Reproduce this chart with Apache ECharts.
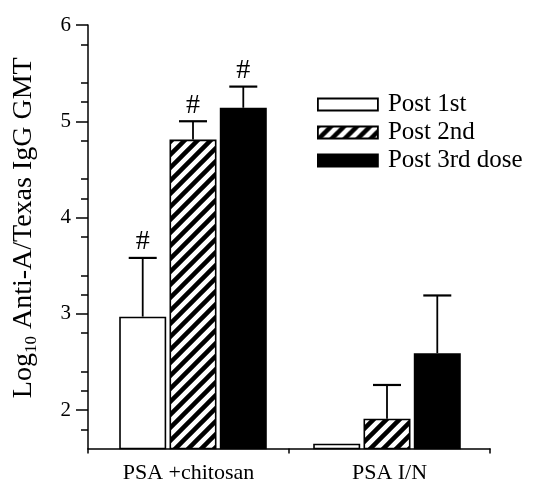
<!DOCTYPE html>
<html><head><meta charset="utf-8">
<script src="https://cdn.jsdelivr.net/npm/echarts@6/dist/echarts.min.js"></script>
<style>html,body{margin:0;padding:0;background:#fff}#c{width:541px;height:485px}</style>
</head><body><div id="c"></div>
<script>
const categories = ['PSA +chitosan', 'PSA I/N'];
const seriesNames = ['Post 1st', 'Post 2nd', 'Post 3rd dose'];
const post1 = [2.97, 1.65];
const post1Err = [0.61, 0];
const post2 = [4.81, 1.91];
const post2Err = [0.19, 0.35];
const post3 = [5.14, 2.59];
const post3Err = [0.22, 0.60];
const sigMarks = ['#', ''];
const yTicks = [2, 3, 4, 5, 6];

const FONT = "'Liberation Serif', 'Times New Roman', serif";
const BAR_W = 47, GAP_PCT = 0.07, GAP = BAR_W * GAP_PCT;
const Y_MIN = 1.6, Y_MAX = 6;

function hatch() {
  const s = 13, c = document.createElement('canvas');
  c.width = s; c.height = s;
  const g = c.getContext('2d');
  g.fillStyle = '#fff'; g.fillRect(0, 0, s, s);
  g.strokeStyle = '#000'; g.lineWidth = 4.5;
  g.beginPath();
  g.moveTo(-3, s + 3); g.lineTo(s + 3, -3);
  g.moveTo(-3, 3); g.lineTo(3, -3);
  g.moveTo(s - 3, s + 3); g.lineTo(s + 3, s - 3);
  g.stroke();
  return { image: c, repeat: 'repeat' };
}

const fills = ['#ffffff', hatch(), '#000000'];
const vals = [post1, post2, post3];
const errs = [post1Err, post2Err, post3Err];

const series = [];
vals.forEach((v, k) => {
  series.push({
    name: seriesNames[k], type: 'bar', data: v, barWidth: BAR_W, barGap: (GAP_PCT * 100) + '%',
    xAxisIndex: 1, yAxisIndex: 1,
    itemStyle: { color: fills[k], borderColor: '#000', borderWidth: 1.6 }
  });
});
vals.forEach((v, k) => {
  series.push({
    type: 'custom', z: 5, silent: true, xAxisIndex: 1, yAxisIndex: 1,
    data: v.map((x, i) => [i, x, x + errs[k][i], errs[k][i]]),
    encode: { x: 0, y: [1, 2] },
    renderItem: function (params, api) {
      const i = api.value(0), e = api.value(3);
      if (!(e > 0)) return null;
      const b = api.coord([i, api.value(1)]);
      const t = api.coord([i, api.value(2)]);
      const x = b[0] + (k - 1) * (BAR_W + GAP);
      const cw = 14;
      const ch = [
        { type: 'line', shape: { x1: x, y1: b[1], x2: x, y2: t[1] }, style: { stroke: '#000', lineWidth: 1.8 } },
        { type: 'line', shape: { x1: x - cw, y1: t[1], x2: x + cw, y2: t[1] }, style: { stroke: '#000', lineWidth: 2.2 } }
      ];
      const m = sigMarks[i];
      if (m) ch.push({ type: 'text', x: x, y: t[1] - 2, style: { text: m, fill: '#000', font: '28px ' + FONT, align: 'center', verticalAlign: 'bottom' } });
      return { type: 'group', children: ch };
    }
  });
});

const chart = echarts.init(document.getElementById('c'));
chart.setOption({
  animation: false,
  backgroundColor: '#fff',
  grid: [
    { left: 88, right: 51, top: 25, bottom: 36.5 },
    { left: 96, right: 57, top: 25, bottom: 36.5 }
  ],
  legend: {
    orient: 'vertical', left: 312, top: 87, itemWidth: 60, itemHeight: 12, itemGap: 3,
    icon: 'rect',
    data: seriesNames,
    textStyle: { fontFamily: FONT, fontSize: 25, color: '#000', padding: [0, 0, 0, 5] },
    itemStyle: { borderColor: '#000', borderWidth: 1.8 }
  },
  xAxis: [{
    type: 'category', data: categories, gridIndex: 0,
    axisLine: { lineStyle: { color: '#000', width: 1.5 } },
    axisTick: { show: true, length: 5, lineStyle: { color: '#000', width: 1.5 } },
    axisLabel: { fontFamily: FONT, fontSize: 22, color: '#000', margin: 14 }
  }, {
    type: 'category', data: categories, gridIndex: 1, show: false
  }],
  yAxis: [{
    type: 'value', min: Y_MIN, max: Y_MAX, interval: 1, gridIndex: 0,
    name: '{a|Log}{s|10}{a| Anti-A/Texas IgG GMT}',
    nameLocation: 'middle', nameGap: 48, nameRotate: 90,
    nameTextStyle: {
      padding: [0, 0, 0, 18],
      rich: {
        a: { fontFamily: FONT, fontSize: 28, color: '#000', verticalAlign: 'middle', lineHeight: 32 },
        s: { fontFamily: FONT, fontSize: 17, color: '#000', verticalAlign: 'bottom', lineHeight: 32 }
      }
    },
    axisLine: { show: true, lineStyle: { color: '#000', width: 1.5 } },
    axisTick: { show: true, length: 12, lineStyle: { color: '#000', width: 1.5 },
      customValues: yTicks },
    minorTick: { show: true, splitNumber: 5, length: 7, lineStyle: { color: '#000', width: 1.5 } },
    splitLine: { show: false },
    axisLabel: { fontFamily: FONT, fontSize: 21, color: '#000', margin: 17,
      customValues: yTicks }
  }, {
    type: 'value', min: Y_MIN, max: Y_MAX, gridIndex: 1, show: false, splitLine: { show: false }
  }],
  series: series
});
</script>
</body></html>
